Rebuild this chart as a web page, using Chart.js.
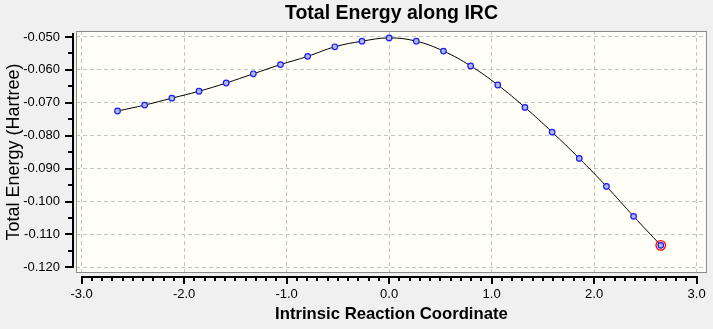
<!DOCTYPE html>
<html>
<head>
<meta charset="utf-8">
<title>Total Energy along IRC</title>
<script src="https://cdn.jsdelivr.net/npm/chart.js@4.4.1/dist/chart.umd.min.js"></script>
<style>
  html, body { margin: 0; padding: 0; background: #f0f0f0; }
  #wrap { width: 713px; height: 329px; }
</style>
</head>
<body>
<div id="wrap"><canvas id="ircChart" width="713" height="329"></canvas></div>
<script>
// IRC path: reaction coordinate vs. total energy (Hartree)
var ircCoord = [-2.65, -2.385, -2.12, -1.855, -1.59, -1.325, -1.06, -0.795, -0.53, -0.265, 0.0,
                0.265, 0.53, 0.795, 1.06, 1.325, 1.59, 1.855, 2.12, 2.385, 2.65];
var ircEnergy = [-0.0725, -0.0707, -0.0686, -0.0665, -0.0640, -0.0612, -0.0584, -0.0559, -0.0530, -0.0513, -0.0503,
                 -0.0513, -0.0543, -0.0588, -0.0646, -0.0714, -0.0789, -0.0869, -0.0954, -0.1045, -0.1133];

var xTicks = [-3, -2, -1, 0, 1, 2, 3];
var yTicks = [-0.120, -0.110, -0.100, -0.090, -0.080, -0.070, -0.060, -0.050];

// axis window is a little wider than the labelled range
var xMin = -3.055, xMax = 3.10;
var yMin = -0.1217, yMax = -0.0482;

var points = ircCoord.map(function(x, i) { return { x: x, y: ircEnergy[i] }; });
var last = points.length - 1;

Chart.defaults.font.family = '"Liberation Sans", Arial, sans-serif';
Chart.defaults.color = '#000';

// plot box, background and the detached axes with major/minor ticks
var axisFrame = {
  id: 'axisFrame',
  beforeDraw: function(chart) {
    var ctx = chart.ctx, a = chart.chartArea;
    ctx.save();
    ctx.fillStyle = '#f0f0f0';
    ctx.fillRect(0, 0, chart.width, chart.height);
    ctx.fillStyle = '#fffff7';
    ctx.fillRect(a.left, a.top, a.right - a.left, a.bottom - a.top);
    ctx.restore();
  },
  beforeDatasetsDraw: function(chart) {
    var ctx = chart.ctx, a = chart.chartArea;
    ctx.save();
    ctx.strokeStyle = '#8a8a8a';
    ctx.lineWidth = 1;
    ctx.strokeRect(a.left + 0.5, a.top + 0.5, a.right - a.left - 1, a.bottom - a.top - 1);
    ctx.restore();
  },
  afterDraw: function(chart) {
    var ctx = chart.ctx, a = chart.chartArea;
    var xs = chart.scales.x, ys = chart.scales.y;
    var i, k, p;
    ctx.save();
    ctx.strokeStyle = '#000';
    ctx.lineWidth = 2;
    ctx.beginPath();

    // y axis
    var ax = a.left - 3;
    ctx.moveTo(ax, Math.round(ys.getPixelForValue(yTicks[yTicks.length - 1])) - 4);
    ctx.lineTo(ax, Math.round(ys.getPixelForValue(yTicks[0])) + 1);
    for (i = 0; i < yTicks.length; i++) {
      p = Math.round(ys.getPixelForValue(yTicks[i]));
      ctx.moveTo(ax, p);
      ctx.lineTo(ax - 8, p);
      if (i < yTicks.length - 1) {
        p = Math.round(ys.getPixelForValue((yTicks[i] + yTicks[i + 1]) / 2));
        ctx.moveTo(ax, p);
        ctx.lineTo(ax - 5, p);
      }
    }

    // x axis
    var ay = a.bottom + 4;
    ctx.moveTo(Math.round(xs.getPixelForValue(xTicks[0])) - 1, ay);
    ctx.lineTo(Math.round(xs.getPixelForValue(xTicks[xTicks.length - 1])) + 1, ay);
    for (i = 0; i < xTicks.length; i++) {
      p = Math.round(xs.getPixelForValue(xTicks[i]));
      ctx.moveTo(p, ay);
      ctx.lineTo(p, ay + 7);
      if (i < xTicks.length - 1) {
        for (k = 1; k < 10; k++) {
          p = Math.round(xs.getPixelForValue(xTicks[i] + k * (xTicks[i + 1] - xTicks[i]) / 10));
          ctx.moveTo(p, ay);
          ctx.lineTo(p, ay + 4);
        }
      }
    }
    ctx.stroke();
    ctx.restore();
  }
};

var ctx = document.getElementById('ircChart');

var ircChart = new Chart(ctx, {
  type: 'line',
  data: {
    datasets: [
      {
        label: 'IRC',
        data: points,
        borderColor: '#000',
        borderWidth: 1,
        tension: 0.4,
        pointRadius: 2.8,
        pointBorderWidth: 1.2,
        pointBackgroundColor: '#b0b8dc',
        pointBorderColor: '#1a1aff',
        order: 2
      },
      {
        label: 'current',
        data: [points[last]],
        showLine: false,
        pointRadius: 4.8,
        pointBorderWidth: 1.3,
        pointBackgroundColor: 'rgba(0,0,0,0)',
        pointBorderColor: '#ff0000',
        order: 1
      }
    ]
  },
  options: {
    responsive: false,
    animation: false,
    devicePixelRatio: 1,
    layout: { padding: 0 },
    plugins: {
      legend: { display: false },
      tooltip: { enabled: false },
      title: {
        display: true,
        text: 'Total Energy along IRC',
        fullSize: false,
        color: '#000',
        font: { size: 19.5, weight: 'bold' },
        padding: { top: 2, bottom: 5.6 }
      }
    },
    scales: {
      x: {
        type: 'linear',
        min: xMin,
        max: xMax,
        afterBuildTicks: function(s) {
          s.ticks = xTicks.map(function(v) { return { value: v }; });
        },
        afterFit: function(s) {
          s.height = 56;
          s.paddingLeft = 0;
          s.paddingRight = 0;
        },
        ticks: {
          autoSkip: false,
          maxRotation: 0,
          padding: 14,
          color: '#000',
          font: { size: 13 },
          callback: function(v) { return v.toFixed(1); }
        },
        grid: { color: '#c4c4c4', lineWidth: 1, drawTicks: false },
        border: { display: false, dash: [4, 3] },
        title: {
          display: true,
          text: 'Intrinsic Reaction Coordinate',
          color: '#000',
          font: { size: 16.7, weight: 'bold' },
          padding: { top: 0, bottom: 5 }
        }
      },
      y: {
        type: 'linear',
        min: yMin,
        max: yMax,
        afterBuildTicks: function(s) {
          s.ticks = yTicks.map(function(v) { return { value: v }; });
        },
        afterFit: function(s) {
          s.width = 76;
          s.paddingTop = 0;
          s.paddingBottom = 0;
        },
        ticks: {
          autoSkip: false,
          padding: 16,
          color: '#000',
          font: { size: 13 },
          callback: function(v) { return v.toFixed(3); }
        },
        grid: { color: '#c4c4c4', lineWidth: 1, drawTicks: false },
        border: { display: false, dash: [4, 3] },
        title: {
          display: true,
          text: 'Total Energy (Hartree)',
          color: '#000',
          font: { size: 18 },
          padding: { top: 3, bottom: 0 }
        }
      }
    }
  },
  plugins: [axisFrame]
});
</script>
</body>
</html>
